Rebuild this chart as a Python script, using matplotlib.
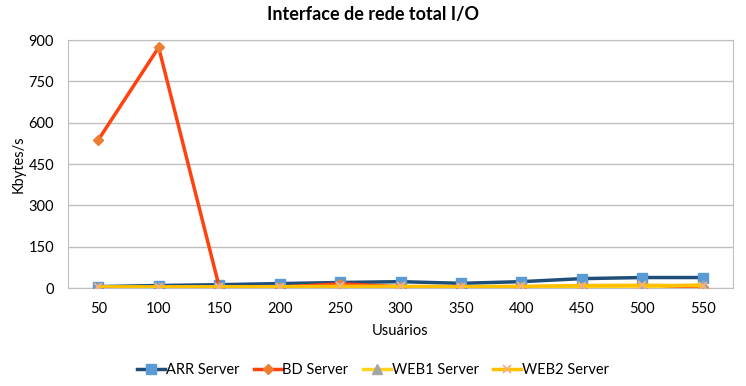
import matplotlib.pyplot as plt
import numpy as np

users = [50, 100, 150, 200, 250, 300, 350, 400, 450, 500, 550]
arr = [5, 9, 12, 16, 20, 23, 17, 23, 34, 38, 38]
bd = [537, 873, 5, 3, 15, 5, 2, 2, 2, 3, 2]
web1 = [3, 3, 3, 3, 4, 4, 3, 3, 4, 4, 12]
web2 = [4, 4, 4, 5, 6, 6, 5, 6, 9, 10, 8]

plt.rcParams['font.family'] = ['Lato', 'DejaVu Sans']

fig = plt.figure(figsize=(7.46, 3.86), dpi=100)
ax = fig.add_axes([68 / 746, 1 - 288 / 386, 665 / 746, 248 / 386])

x = np.arange(len(users))
ax.plot(x, arr, color='#1F4E79', lw=2.5, marker='s', ms=7,
        mfc='#5B9BD5', mec='#5B9BD5', label='ARR Server', zorder=3)
ax.plot(x, bd, color='#FF420E', lw=2.5, marker='D', ms=5,
        mfc='#ED7D31', mec='#ED7D31', label='BD Server', zorder=4)
ax.plot(x, web1, color='#FFD320', lw=2.5, marker='^', ms=7,
        mfc='#A5A5A5', mec='#A5A5A5', label='WEB1 Server', zorder=5)
ax.plot(x, web2, color='#FFC000', lw=2.5, marker='x', ms=6, mew=1.3,
        mec='#F4B183', label='WEB2 Server', zorder=6)

ax.set_xlim(-0.5, len(users) - 0.5)
ax.set_ylim(0, 900)
ax.set_yticks(range(0, 901, 150))
ax.set_xticks(x)
ax.set_xticklabels([str(u) for u in users])
ax.tick_params(length=0, labelsize=10.5, pad=10)
ax.tick_params(axis='y', pad=10)
ax.grid(axis='y', color='#BFBFBF', lw=1)
ax.set_axisbelow(True)
for s in ax.spines.values():
    s.set_color('#BFBFBF')

ax.set_ylabel('Kbytes/s', fontsize=10.5)
ax.yaxis.set_label_coords(-42 / 665, 0.5)
ax.set_xlabel('Usuários', fontsize=10.5, labelpad=6)
fig.suptitle('Interface de rede total I/O', fontsize=13, fontweight='bold', y=0.985)

fig.legend(loc='lower center', ncol=4, frameon=False, fontsize=10.5,
           bbox_to_anchor=(0.5, -0.01), columnspacing=1.0, handlelength=1.9,
           handletextpad=0.05)

fig.savefig('out.png', dpi=100)
